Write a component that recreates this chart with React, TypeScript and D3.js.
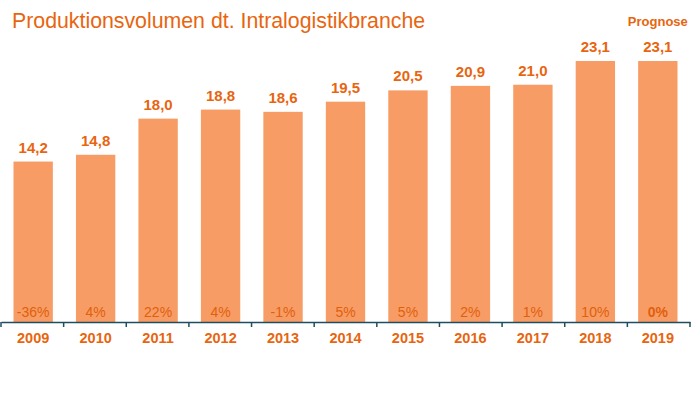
import React, { useEffect, useRef } from 'react';
import * as d3 from 'd3';

const years = ['2009', '2010', '2011', '2012', '2013', '2014', '2015', '2016', '2017', '2018', '2019'];
const volumes = [14.2, 14.8, 18.0, 18.8, 18.6, 19.5, 20.5, 20.9, 21.0, 23.1, 23.1];
const changes = ['-36%', '4%', '22%', '4%', '-1%', '5%', '5%', '2%', '1%', '10%', '0%'];

const orange = '#e8650f';
const barColor = '#f89c65';

function Chart() {
  const ref = useRef<SVGSVGElement>(null);

  useEffect(() => {
    const svg = d3.select(ref.current);
    svg.selectAll('*').remove();

    const width = 695, height = 395;
    const baseY = 322;
    const font = 'Arial, "Liberation Sans", sans-serif';

    const x = d3.scaleBand().domain(years).range([1, 690]).paddingInner(0.37).paddingOuter(0.2);
    const y = d3.scaleLinear().domain([0, 23.1]).range([baseY, 61]);

    svg.attr('width', width).attr('height', height);

    svg.append('text')
      .attr('x', 12).attr('y', 28)
      .attr('font-family', font).attr('font-size', 21.3)
      .attr('fill', orange)
      .text('Produktionsvolumen dt. Intralogistikbranche');

    svg.selectAll('.bar')
      .data(volumes)
      .enter()
      .append('rect')
      .attr('x', (_, i) => x(years[i])!)
      .attr('y', d => y(d))
      .attr('width', x.bandwidth())
      .attr('height', d => baseY - y(d))
      .attr('fill', barColor);

    svg.selectAll('.val')
      .data(volumes)
      .enter()
      .append('text')
      .attr('x', (_, i) => x(years[i])! + x.bandwidth() / 2)
      .attr('y', d => y(d) - 9)
      .attr('text-anchor', 'middle')
      .attr('font-family', font).attr('font-size', 15).attr('font-weight', 'bold')
      .attr('fill', orange)
      .text(d => d.toFixed(1).replace('.', ','));

    svg.selectAll('.pct')
      .data(changes)
      .enter()
      .append('text')
      .attr('x', (_, i) => x(years[i])! + x.bandwidth() / 2)
      .attr('y', 317)
      .attr('text-anchor', 'middle')
      .attr('font-family', font).attr('font-size', 14)
      .attr('font-weight', (_, i) => (i === changes.length - 1 ? 'bold' : 'normal'))
      .attr('fill', '#e0600c')
      .text(d => d);

    const axis = svg.append('g')
      .attr('transform', `translate(0,${baseY})`)
      .call(d3.axisBottom(x).tickSize(0).tickPadding(11))
      .call(g => g.select('.domain').attr('stroke', '#1f4e5f').attr('stroke-width', 1.5));
    axis.selectAll('.tick text')
      .attr('font-family', font).attr('font-size', 14.5).attr('font-weight', 'bold')
      .attr('fill', orange).attr('dy', '0.71em');

    // category separators below the axis line
    const edges = d3.range(years.length + 1).map(i => 1 + i * (689 / years.length));
    axis.selectAll('.edge')
      .data(edges)
      .enter()
      .append('line')
      .attr('x1', d => d).attr('x2', d => d)
      .attr('y1', 0).attr('y2', 5)
      .attr('stroke', '#1f4e5f').attr('stroke-width', 1.5);

    svg.append('text')
      .attr('x', x('2019')! + x.bandwidth() / 2)
      .attr('y', 26)
      .attr('text-anchor', 'middle')
      .attr('font-family', font).attr('font-size', 13).attr('font-weight', 'bold')
      .attr('fill', orange)
      .text('Prognose');
  }, []);

  return <svg ref={ref} style={{ display: 'block', position: 'absolute', left: 0, top: 0 }}></svg>;
}

export default function App() {
  return <Chart />;
}
